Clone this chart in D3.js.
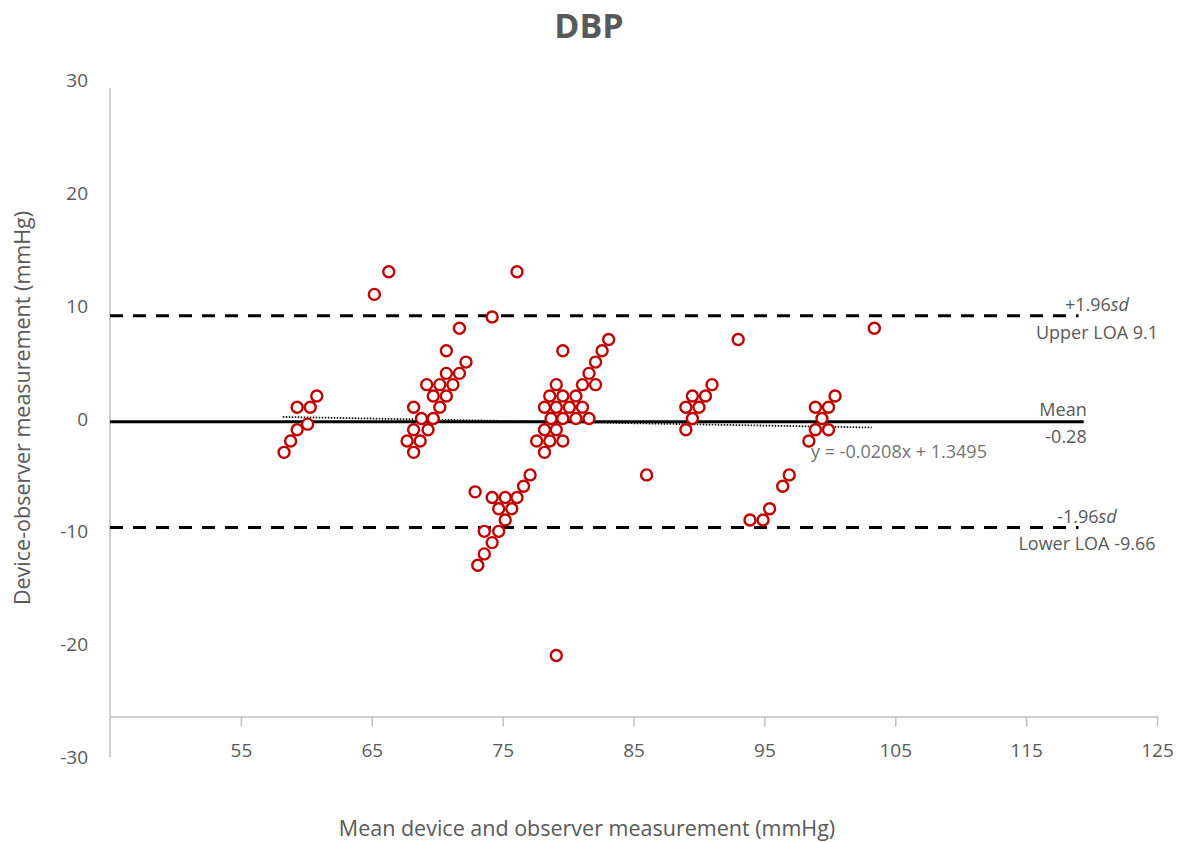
<!DOCTYPE html>
<html>
<head>
<meta charset="utf-8">
<script src="https://d3js.org/d3.v7.min.js"></script>
<style>
body { margin: 0; background: #fff; }
text { fill: #595959; }
</style>
</head>
<body>
<script>
// DATA: mean of device and observer (x), device - observer difference (y)
var meanBP = [58.3, 58.8, 59.3, 60.1, 59.3, 60.3, 60.8,
  65.2, 66.3, 67.7, 68.7, 68.2, 68.2, 69.3, 68.8, 69.7, 68.2, 70.2, 69.7, 70.7, 69.2, 70.2, 71.2, 70.7, 71.7, 72.2, 70.7, 71.7, 74.2, 76.1,
  72.9, 73.1, 73.6, 74.2, 73.6, 74.7, 75.2, 74.7, 75.7, 74.2, 75.2, 76.1, 76.6, 77.1,
  78.2, 77.6, 78.6, 79.6, 78.2, 79.1, 78.7, 79.6, 80.6, 81.6, 78.2, 79.1, 80.1, 81.1, 78.6, 79.6, 80.6, 79.1, 81.1, 82.1, 81.6, 82.1, 82.6, 83.1, 79.6, 79.1,
  86.0,
  89.0, 89.5, 89.0, 90.0, 89.5, 90.5, 91.0,
  93.0, 93.9, 94.9, 95.4, 96.4, 96.9,
  98.4, 98.9, 99.9, 99.4, 98.9, 99.9, 100.4,
  103.4];
var diffBP = [-3, -2, -1, -0.5, 1, 1, 2,
  11, 13, -2, -2, -3, -1, -1, 0, 0, 1, 1, 2, 2, 3, 3, 3, 4, 4, 5, 6, 8, 9, 13,
  -6.5, -13, -12, -11, -10, -10, -9, -8, -8, -7, -7, -7, -6, -5,
  -3, -2, -2, -2, -1, -1, 0, 0, 0, 0, 1, 1, 1, 1, 2, 2, 2, 3, 3, 3, 4, 5, 6, 7, 6, -21,
  -5,
  -1, 0, 1, 1, 2, 2, 3,
  7, -9, -9, -8, -6, -5,
  -2, -1, -1, 0, 1, 1, 2,
  8];

var xTicks = [55, 65, 75, 85, 95, 105, 115, 125];
var yTicks = [30, 20, 10, 0, -10, -20, -30];

var meanDiff = -0.28;
var upperLOA = 9.1;
var lowerLOA = -9.66;
var slope = -0.0208;
var intercept = 1.3495;
var trendRange = [58.2, 103.2];
var lineEnd = 119;

var W = 1180, H = 843;
var svg = d3.select("body").append("svg").attr("width", W).attr("height", H);

var x = d3.scaleLinear().domain([45, 125]).range([110, 1157]);
var y = d3.scaleLinear().domain([-30, 30]).range([757, 80]);
var axisY = y(-26.4);

var font = "'Open Sans', 'DejaVu Sans', sans-serif";

// title
svg.append("text").attr("x", 589).attr("y", 38)
  .attr("text-anchor", "middle")
  .style("font-family", font).style("font-weight", "bold").style("font-size", "34px")
  .text("DBP");

// y axis line
svg.append("line").attr("x1", x(45)).attr("x2", x(45))
  .attr("y1", y(30) + 8).attr("y2", y(-30))
  .attr("stroke", "#bfbfbf").attr("stroke-width", 1.5);

// y tick labels
svg.selectAll(".ylab").data(yTicks).enter().append("text")
  .attr("class", "ylab")
  .attr("x", 88).attr("y", function(d) { return y(d) + 7; })
  .attr("text-anchor", "end")
  .style("font-family", font).style("font-size", "19px")
  .text(function(d) { return d; });

// x axis
var xAxis = d3.axisBottom(x).tickValues(xTicks).tickSize(10).tickSizeOuter(0);
var gx = svg.append("g").attr("transform", "translate(0," + axisY + ")").call(xAxis);
gx.select(".domain").attr("stroke", "#bfbfbf").attr("stroke-width", 1.5);
gx.selectAll(".tick line").attr("stroke", "#bfbfbf").attr("stroke-width", 1.5);
gx.selectAll(".tick text").attr("y", 27)
  .style("font-family", "'Liberation Sans Narrow', 'Open Sans', sans-serif")
  .style("font-size", "19px").attr("fill", "#595959");

// axis titles
svg.append("text").attr("x", 587).attr("y", 836)
  .attr("text-anchor", "middle")
  .style("font-family", font).style("font-size", "21.5px")
  .text("Mean device and observer measurement  (mmHg)");

svg.append("text")
  .attr("transform", "translate(30,408) rotate(-90)")
  .attr("text-anchor", "middle")
  .style("font-family", font).style("font-size", "21.5px")
  .text("Device-observer  measurement (mmHg)");

// mean and LOA lines
svg.append("line").attr("x1", x(45)).attr("x2", x(lineEnd + 0.4))
  .attr("y1", y(meanDiff)).attr("y2", y(meanDiff))
  .attr("stroke", "#000").attr("stroke-width", 3);

[upperLOA, lowerLOA].forEach(function(v) {
  svg.append("line").attr("x1", x(45)).attr("x2", x(lineEnd))
    .attr("y1", y(v)).attr("y2", y(v))
    .attr("stroke", "#000").attr("stroke-width", 3)
    .attr("stroke-dasharray", "13,10");
});

// regression trend line
svg.append("line")
  .attr("x1", x(trendRange[0])).attr("y1", y(slope * trendRange[0] + intercept))
  .attr("x2", x(trendRange[1])).attr("y2", y(slope * trendRange[1] + intercept))
  .attr("stroke", "#111").attr("stroke-width", 1.8)
  .attr("stroke-dasharray", "1.5,1.5");

// points
var pts = meanBP.map(function(d, i) { return {x: d, y: diffBP[i]}; });
svg.selectAll("circle").data(pts).enter().append("circle")
  .attr("cx", function(d) { return x(d.x); })
  .attr("cy", function(d) { return y(d.y); })
  .attr("r", 5.5)
  .attr("fill", "#fff")
  .attr("stroke", "#c00000")
  .attr("stroke-width", 2.4);

// line labels
function label(tx, ty, parts, color) {
  var t = svg.append("text").attr("x", tx).attr("y", ty)
    .attr("text-anchor", "middle")
    .style("font-family", font).style("font-size", "18px")
    .style("fill", color || "#595959");
  parts.forEach(function(p) {
    t.append("tspan").style("font-style", p[1] ? "italic" : "normal").text(p[0]);
  });
}
label(1097, y(upperLOA) - 5, [["+1.96", 0], ["sd", 1]]);
label(1097, y(upperLOA) + 23, [["Upper LOA 9.1", 0]]);
label(1063, y(meanDiff) - 6, [["Mean", 0]]);
label(1066, y(meanDiff) + 21, [["-0.28", 0]]);
label(1087, y(lowerLOA) - 4, [["-1.96", 0], ["sd", 1]]);
label(1087, y(lowerLOA) + 23, [["Lower LOA -9.66", 0]]);
label(899, 458, [["y = -0.0208x + 1.3495", 0]], "#737373");
</script>
</body>
</html>
